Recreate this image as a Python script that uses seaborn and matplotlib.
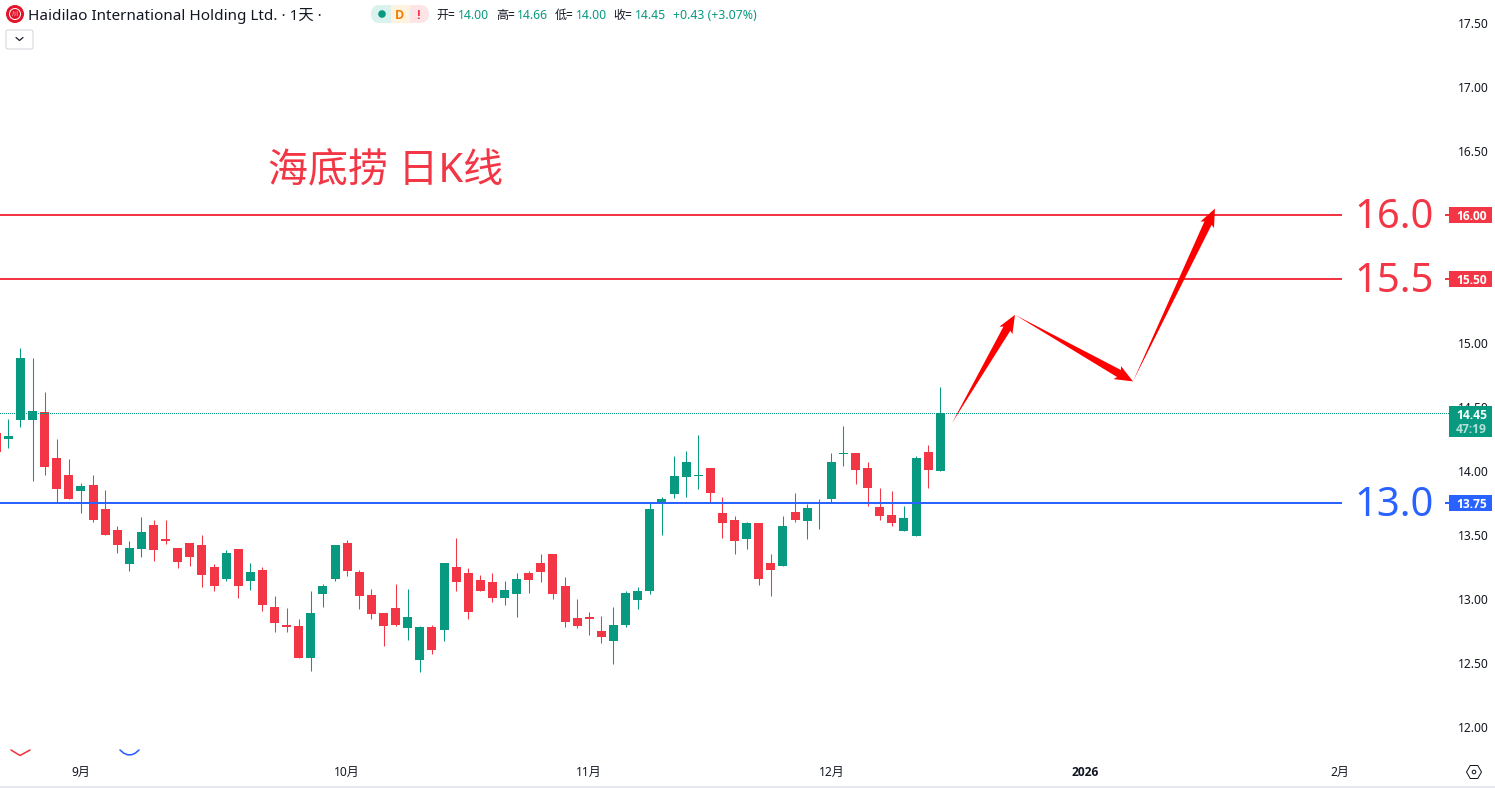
import numpy as np
import pandas as pd
import seaborn as sns
import matplotlib
matplotlib.use("Agg")
import matplotlib.pyplot as plt
from matplotlib.patches import Rectangle, Polygon, Circle, RegularPolygon, FancyBboxPatch
from matplotlib.lines import Line2D

# ---- data ----
opens = [14.30,14.25,14.40,14.40,14.46,14.10,13.97,13.84,13.89,13.70,13.54,13.27,13.39,13.58,13.47,13.40,13.44,13.42,13.25,13.16,
         13.39,13.14,13.23,12.94,12.80,12.79,12.54,13.04,13.16,13.44,13.21,13.03,12.89,12.93,12.77,12.52,12.78,12.76,13.25,13.20,
         13.15,13.13,13.01,13.04,13.20,13.28,13.35,13.10,12.85,12.86,12.75,12.67,12.80,12.99,13.06,13.74,13.82,13.95,13.96,14.02,
         13.67,13.62,13.47,13.59,13.28,13.26,13.68,13.61,13.74,13.78,14.13,14.14,14.02,13.72,13.66,13.53,13.49,14.15,14.00]
highs = [14.32,14.41,14.96,14.88,14.62,14.25,14.09,13.91,13.97,13.85,13.57,13.45,13.64,13.62,13.62,13.40,13.44,13.50,13.27,13.38,
         13.39,13.28,13.25,13.02,12.93,12.84,13.06,13.12,13.42,13.46,13.23,13.08,12.89,13.12,13.08,12.79,12.80,13.28,13.48,13.24,
         13.19,13.20,13.14,13.20,13.22,13.35,13.35,13.17,13.00,12.90,12.87,12.94,13.06,13.09,13.75,13.80,14.12,14.16,14.28,14.02,
         13.80,13.65,13.60,13.59,13.35,13.65,13.83,13.74,13.78,14.14,14.35,14.14,14.07,13.87,13.84,13.73,14.12,14.20,14.66]
lows = [14.15,14.18,14.34,13.92,13.97,13.75,13.78,13.67,13.60,13.50,13.36,13.22,13.33,13.30,13.43,13.24,13.26,13.09,13.06,13.14,
        13.01,13.07,12.91,12.74,12.74,12.54,12.44,12.94,13.14,13.18,12.92,12.84,12.63,12.79,12.68,12.43,12.57,12.67,13.06,12.84,
        13.06,12.98,12.95,12.86,13.05,13.13,13.00,12.78,12.77,12.72,12.66,12.49,12.78,12.92,13.04,13.50,13.79,13.80,13.86,13.75,
        13.48,13.35,13.39,13.11,13.02,13.26,13.60,13.47,13.55,13.76,14.04,13.90,13.73,13.62,13.57,13.53,13.49,13.87,14.00]
closes = [14.15,14.27,14.88,14.47,14.03,13.86,13.78,13.88,13.62,13.50,13.42,13.40,13.52,13.38,13.45,13.29,13.33,13.19,13.10,13.36,
          13.10,13.21,12.95,12.81,12.78,12.54,12.89,13.10,13.42,13.22,13.02,12.88,12.79,12.80,12.86,12.78,12.60,13.28,13.13,12.90,
          13.06,13.01,13.07,13.16,13.15,13.21,13.04,12.82,12.79,12.84,12.70,12.80,13.05,13.06,13.70,13.78,13.96,14.07,13.97,13.83,
          13.59,13.45,13.59,13.16,13.23,13.57,13.62,13.71,13.75,14.07,14.14,14.01,13.87,13.65,13.59,13.63,14.10,14.01,14.45]
bar_index = list(range(-1, 78))

level_prices = [16.00, 15.50, 13.75]
level_tags = ["16.00", "15.50", "13.75"]
level_names = ["16.0", "15.5", "13.0"]
last_price = 14.45
countdown = "47:19"

price_ticks = [12.0,12.5,13.0,13.5,14.0,14.5,15.0,15.5,16.0,16.5,17.0,17.5]
time_ticks = [6, 28, 48, 68, 89, 110]
time_labels = ["9月", "10月", "11月", "12月", "2026", "2月"]

path_index = [77.97, 83.17, 92.92, 99.69]
path_price = [14.375, 15.22, 14.70, 16.05]

title_text = "海底捞 日K线"
header_text = "Haidilao International Holding Ltd. · 1天 ·"
ohlc_labels = ["开=", "高=", "低=", "收="]
ohlc_values = ["14.00", "14.66", "14.00", "14.45"]
change_text = "+0.43 (+3.07%)"

# ---- style ----
RED = "#f23645"; GREEN = "#089981"; BLUE = "#2962ff"; INK = "#131722"; ARROW = "#ff0000"
W, H = 1495, 788
sns.set_theme(style="white")
FONT = ["Noto Sans", "Noto Sans CJK SC", "DejaVu Sans"]
BOLD = ["Open Sans", "Noto Sans CJK SC", "DejaVu Sans"]
plt.rcParams["font.family"] = FONT
PX = 0.72  # points per pixel at dpi 100

fig = plt.figure(figsize=(W/100, H/100), dpi=100, facecolor="white")
PLOT_R, PLOT_B = 1449, 757
ax = fig.add_axes([0, 1-PLOT_B/H, PLOT_R/W, PLOT_B/H])
ax.set_facecolor("white")

def fx(x): return x/W
def fy(y): return 1-y/H

df = pd.DataFrame({"i": bar_index, "o": opens, "h": highs, "l": lows, "c": closes})
df["up"] = df.c >= df.o
df["top"] = df[["o","c"]].max(axis=1)
df["bot"] = df[["o","c"]].min(axis=1)
df["body"] = (df.top-df.bot).clip(lower=0.012)

STEP = 12.104
for up, col in [(True, GREEN), (False, RED)]:
    d = df[df.up == up]
    ax.vlines(d.i, d.l, d.h, colors=col, linewidth=1.05*PX, zorder=2)
    sns.barplot(data=d, x="i", y="body", native_scale=True, bottom=d.bot.values, width=9/STEP,
                color=col, saturation=1, errorbar=None, linewidth=0, ax=ax, legend=False, zorder=3)

ax.set_xlim(-0.686, 119.03)
ax.set_ylim(16-(PLOT_B-215)/128, 16+215/128)
ax.set_yticks(price_ticks, [f"{t:.2f}" for t in price_ticks])
ax.yaxis.tick_right()
ax.set_xticks(time_ticks, time_labels)
ax.set_xlabel(""); ax.set_ylabel("")
ax.tick_params(axis="y", length=0, pad=9*PX, labelsize=12*PX, labelcolor=INK)
ax.tick_params(axis="x", length=0, pad=9*PX, labelsize=12*PX, labelcolor=INK)
ax.get_xticklabels()[4].set_fontweight("bold")
ax.get_xticklabels()[4].set_fontfamily(BOLD)
for s in ax.spines.values():
    s.set_visible(False)
ax.grid(False)

# levels
ax.axhline(last_price, color=GREEN, lw=1.0*PX, ls=(0, (1, 2)), zorder=7, snap=True, antialiased=False)
level_cols = [RED, RED, BLUE]
for p, c in zip(level_prices, level_cols):
    ax.axhline(p, color=c, lw=2*PX, zorder=4)

# label gap and level labels
ax.add_patch(Rectangle((1342/PLOT_R, 0), (PLOT_R-1342-4)/PLOT_R, 1, transform=ax.transAxes,
                       fc="white", ec="none", zorder=5))
for p, c, name, tag in zip(level_prices, level_cols, level_names, level_tags):
    y_px = 215+(16-p)*128
    fig.text(fx(1394), fy(y_px+3.5), name, color=c, fontsize=40*PX, ha="center", va="center", zorder=10)
    fig.add_artist(Rectangle((fx(1449), fy(y_px+8)), 43/W, 16/H, transform=fig.transFigure, fc=c, ec="none", zorder=8))
    fig.text(fx(1471.5), fy(y_px+1.5), tag, color="white", fontsize=12*PX, fontweight="bold",
             family=BOLD, ha="center", va="center", zorder=10)

# last price tag (covers the 14.50 tick label, as in the source)
fig.add_artist(Rectangle((fx(1449), fy(437)), 43/W, 31/H, transform=fig.transFigure, fc=GREEN, ec="none", zorder=8))
fig.text(fx(1471.5), fy(415.5), f"{last_price:.2f}", color="white", fontsize=12*PX, fontweight="bold",
         family=BOLD, ha="center", va="center", zorder=10)
fig.text(fx(1471.5), fy(429.5), countdown, color="#b5e0d8", fontsize=12*PX, fontweight="bold",
         family=BOLD, ha="center", va="center", zorder=10)

# forecast arrows: tapered, built in screen space from the path points
fig.canvas.draw()
pts = ax.transData.transform(np.column_stack([path_index, path_price]))
inv = ax.transData.inverted()
for a, b in zip(pts[:-1], pts[1:]):
    u = (b-a)/np.linalg.norm(b-a); n = np.array([-u[1], u[0]])
    base = b-u*16
    poly = np.array([a, base+n*4, base-u*2+n*7.5, b, base-u*2-n*7.5, base-n*4])
    ax.add_patch(Polygon(inv.transform(poly), closed=True, fc=ARROW, ec="none", zorder=6, clip_on=False))

# title
fig.text(fx(268.5), fy(171), title_text, color=RED, fontsize=40*PX, ha="left", va="center", zorder=10)

# header
hdr = fig.add_axes([0, 0, 1, 1], facecolor="none", zorder=20)
hdr.set_xlim(0, W); hdr.set_ylim(H, 0); hdr.axis("off")
hdr.add_patch(Circle((15, 14), 9, fc="#e4142b", ec="none"))
hdr.add_patch(Circle((15, 14), 5.5, fc="none", ec="white", lw=1*PX))
hdr.text(15, 14.5, "川", color="white", fontsize=6*PX, ha="center", va="center")
hdr.text(28, 15.5, header_text, color=INK, fontsize=15.3*PX, ha="left", va="center")
hdr.add_patch(FancyBboxPatch((6, 30), 27, 19, boxstyle="round,pad=0,rounding_size=2", fc="white", ec="#d1d4dc", lw=1*PX))
hdr.add_line(Line2D([16, 19.5, 23], [37.5, 40.5, 37.5], color=INK, lw=1.2*PX))
# status pill
hdr.add_patch(FancyBboxPatch((371, 5), 58, 18, boxstyle="round,pad=0,rounding_size=9", fc="#fde4e6", ec="none"))
hdr.add_patch(FancyBboxPatch((371, 5), 40, 18, boxstyle="round,pad=0,rounding_size=9", fc="#daf2ee", ec="none"))
hdr.add_patch(Rectangle((391, 5), 19, 18, fc="#fff3e0", ec="none"))
hdr.add_patch(Circle((382, 14), 3.8, fc=GREEN, ec="none"))
hdr.text(400, 15, "D", color="#f57c00", fontsize=12.5*PX, fontweight="bold", family=BOLD, ha="center", va="center")
hdr.text(418, 15, "!", color=RED, fontsize=12.5*PX, fontweight="bold", family=BOLD, ha="center", va="center")
for lx, vx, l, v in zip([436, 496, 555, 613], [458, 517, 576, 635], ohlc_labels, ohlc_values):
    hdr.text(lx, 15.5, l, color=INK, fontsize=12*PX, ha="left", va="center")
    hdr.text(vx, 15.5, v, color=GREEN, fontsize=12.2*PX, ha="left", va="center")
hdr.text(673, 15.5, change_text, color=GREEN, fontsize=12.3*PX, ha="left", va="center")
# clipped tool icons at the bottom of the pane
hdr.add_line(Line2D([11, 20, 30], [750, 755.5, 750], color=RED, lw=1.6*PX))
t = np.array([-1, -0.6, -0.2, 0.2, 0.6, 1])
hdr.add_line(Line2D(129.5+9.5*t, 750+5*(1-t**2), color=BLUE, lw=1.6*PX))
# settings icon and bottom edge
hdr.add_patch(RegularPolygon((1474, 772), 6, radius=7.5, orientation=np.pi/2, fc="none", ec=INK, lw=1*PX))
hdr.add_patch(Circle((1474, 772), 1.8, fc="none", ec=INK, lw=1*PX))
hdr.add_patch(Rectangle((0, 785.5), W, 2.5, fc="#e6e8ee", ec="none"))

fig.savefig("out.png", dpi=100, facecolor="white")
